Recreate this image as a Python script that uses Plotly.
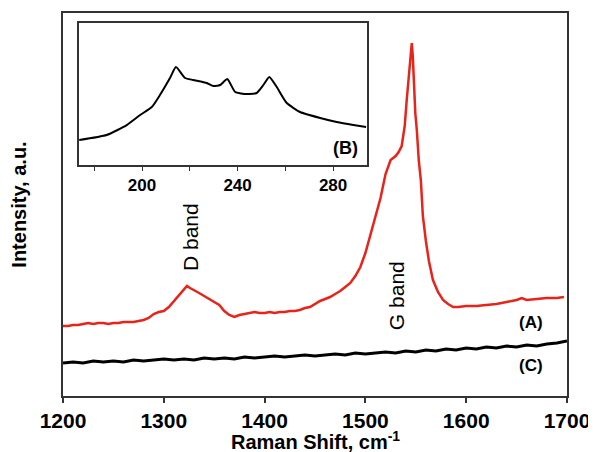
import plotly.graph_objects as go

# Main spectrum (A): Raman shift (cm-1) vs intensity (a.u.)
shift_a = [1200, 1205, 1210, 1215, 1220, 1225, 1230, 1235, 1240, 1245, 1250, 1255, 1260, 1265,
           1270, 1275, 1280, 1285, 1290, 1295, 1300, 1305, 1310, 1315, 1320, 1323, 1326, 1330,
           1335, 1340, 1345, 1350, 1355, 1360, 1365, 1370, 1375, 1380, 1385, 1390, 1395, 1400,
           1405, 1410, 1415, 1420, 1425, 1430, 1435, 1440, 1445, 1450, 1455, 1460, 1465, 1470,
           1475, 1480, 1485, 1490, 1495, 1500, 1505, 1510, 1515, 1520, 1525, 1530, 1533, 1536,
           1539, 1541, 1543, 1545, 1546, 1547, 1548, 1549.5, 1551, 1553, 1555, 1557, 1560, 1563,
           1567, 1572, 1577, 1582, 1587, 1592, 1600, 1610, 1620, 1630, 1640, 1650, 1655, 1660,
           1670, 1680, 1690, 1697]
int_a = [70, 70, 71, 71, 72, 73, 72, 73, 73, 72, 73, 73, 74, 74,
         74, 75, 76, 78, 82, 84, 85, 89, 95, 101, 106, 110, 108, 106,
         103, 100, 97, 94, 91, 85, 81, 79, 81, 82, 83, 84, 83, 83,
         84, 83, 84, 84, 85, 85, 86, 88, 89, 92, 95, 97, 99, 102,
         105, 109, 113, 120, 129, 143, 162, 180, 198, 222, 236, 240, 244, 250,
         270, 296, 320, 345, 353, 340, 310, 283, 266, 235, 216, 180, 155, 135,
         116, 104, 96, 92, 89, 89, 90, 90, 91, 92, 94, 96, 98, 96,
         97, 98, 98, 99]

# Spectrum (C)
shift_c = list(range(1200, 1701, 10))
int_c = [33, 34, 33, 35, 34, 35, 34, 36, 35, 36, 37, 36, 37, 36, 38, 37, 38, 37, 39, 38,
         39, 40, 39, 40, 41, 40, 41, 42, 41, 43, 42, 43, 44, 43, 45, 44, 46, 45, 47, 46,
         48, 47, 49, 48, 50, 49, 51, 50, 52, 53, 55]

# Inset (B): low-frequency region
shift_b = [173.7, 185.2, 193.6, 199.2, 204.1, 207.5, 211.7, 214.2, 218.0, 221.4, 227.1, 229.9,
           232.7, 235.7, 239.0, 243.9, 248.0, 250.8, 253.3, 256.4, 260.6, 266.2, 274.6, 281.5,
           288.5, 293.8]
int_b = [25, 30, 40, 50, 58, 70, 87, 98, 87, 85, 82, 79,
         80, 86, 73, 71, 72, 80, 88, 78, 62, 53, 47, 43,
         40, 38]

main_ticks = [1200, 1300, 1400, 1500, 1600, 1700]
inset_ticks = [200, 240, 280]

FONT = "Liberation Sans, Arial, sans-serif"
AX = "#333333"

fig = go.Figure()
fig.add_trace(go.Scatter(x=shift_a, y=int_a, mode="lines",
                         line=dict(color="#e8231a", width=2.5), showlegend=False))
fig.add_trace(go.Scatter(x=shift_c, y=int_c, mode="lines",
                         line=dict(color="#000000", width=3), showlegend=False))
fig.add_trace(go.Scatter(x=shift_b, y=int_b, mode="lines", xaxis="x2", yaxis="y2",
                         line=dict(color="#000000", width=2, shape="spline", smoothing=0.5),
                         showlegend=False))

# the page body adds an 8px margin, so the figure is 8px smaller and offsets are shifted
fig.update_layout(
    width=588, height=444,
    margin=dict(l=55, r=29, t=5, b=56),
    paper_bgcolor="white", plot_bgcolor="white",
    font=dict(family=FONT, color="black"),
    xaxis=dict(range=[1200, 1700], tickvals=main_ticks, ticks="outside", ticklen=5,
               tickwidth=1.5, tickcolor=AX, showline=True, linecolor=AX, linewidth=2,
               mirror=True, showgrid=False, zeroline=False, automargin=False,
               tickfont=dict(size=21, family=FONT, weight="bold")),
    yaxis=dict(range=[0, 383], showticklabels=False, ticks="", showline=True,
               linecolor=AX, linewidth=2, mirror=True, showgrid=False, zeroline=False,
               automargin=False,
               title=dict(text="Intensity, a.u.", standoff=34,
                          font=dict(size=20, family=FONT, weight="bold"))),
    xaxis2=dict(domain=[0.0317, 0.6032], anchor="y2", range=[173.6, 294.2],
                tickvals=inset_ticks, ticks="outside", ticklen=4,
                minor=dict(dtick=20, tick0=180, ticks="outside", ticklen=4, tickcolor=AX),
                tickcolor=AX, showline=True, linecolor=AX, linewidth=1.5, mirror=True,
                showgrid=False, zeroline=False,
                tickfont=dict(size=17, family=FONT, weight="bold")),
    yaxis2=dict(domain=[0.603, 0.974], anchor="x2", range=[0, 142], showticklabels=False,
                ticks="", showline=True, linecolor=AX, linewidth=1.5, mirror=True,
                showgrid=False, zeroline=False),
    annotations=[
        dict(text="Raman Shift, cm<sup>-1</sup>", x=0.5, y=-0.116, xref="paper", yref="paper",
             yanchor="middle", showarrow=False,
             font=dict(size=20, family=FONT, weight="bold")),
        dict(text="D band", x=1326, y=159, xref="x", yref="y", textangle=-90,
             showarrow=False, font=dict(size=21, family=FONT)),
        dict(text="G band", x=1530.5, y=100, xref="x", yref="y", textangle=-90,
             showarrow=False, font=dict(size=21, family=FONT)),
        dict(text="(A)", x=1664, y=74, xref="x", yref="y", showarrow=False,
             font=dict(size=17, family=FONT, weight="bold")),
        dict(text="(C)", x=1664, y=31, xref="x", yref="y", showarrow=False,
             font=dict(size=17, family=FONT, weight="bold")),
        dict(text="(B)", x=285, y=17, xref="x2", yref="y2", showarrow=False,
             font=dict(size=18, family=FONT, weight="bold")),
    ],
)
fig.add_shape(type="rect", xref="x2 domain", yref="y2 domain", x0=0, x1=1, y0=0, y1=1,
              fillcolor="white", line=dict(width=0), layer="below")

fig.write_html("out.html")
